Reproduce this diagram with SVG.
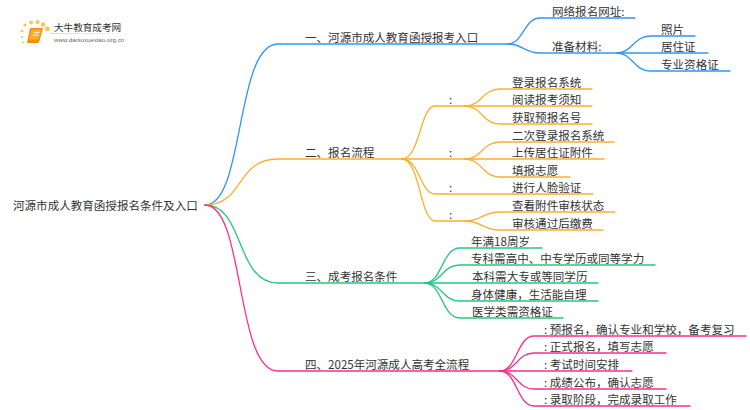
<svg xmlns="http://www.w3.org/2000/svg" width="750" height="410" viewBox="0 0 750 410">
<style>
text{font-family:"Noto Sans CJK SC","Noto Sans",sans-serif;font-size:11.55px;fill:#333}
.c{fill:none;stroke-width:1.3;stroke-linecap:round}
.b{stroke:#2e96fb}.o{stroke:#fbb02d}.g{stroke:#25c77f}.p{stroke:#fb2e8c}
.d{fill:#fcc44a}
</style>
<defs><linearGradient id="fade" x1="0" x2="1" y1="0" y2="0"><stop offset="0" stop-color="#ccc"/><stop offset="1" stop-color="#fff"/></linearGradient></defs>
<rect width="750" height="410" fill="#fff"/>
<g id="connectors">
<path class="c b" d="M205 205C245 205 235 44 278 44H508"/>
<path class="c b" d="M508 44C523 44 524 18 540 18H635"/>
<path class="c b" d="M508 44C523 44 524 53 540 53H617"/>
<path class="c b" d="M617 53C632 53 634 36 650 36H695"/>
<path class="c b" d="M617 53H708"/>
<path class="c b" d="M617 53C632 53 634 71 650 71H730"/>
<path class="c o" d="M205 205C245 205 235 159 278 159H402"/>
<path class="c o" d="M402 159C420 159 420 106 435 106H465"/>
<path class="c o" d="M402 159H465"/>
<path class="c o" d="M402 159C420 159 420 194 435 194H593"/>
<path class="c o" d="M402 159C420 159 420 221 435 221H465"/>
<path class="c o" d="M465 106C482 106 482 89 500 89H592"/>
<path class="c o" d="M465 106H592"/>
<path class="c o" d="M465 106C482 106 482 124 500 124H592"/>
<path class="c o" d="M465 159C482 159 482 142 500 142H614"/>
<path class="c o" d="M465 159H604"/>
<path class="c o" d="M465 159C482 159 482 177 500 177H570"/>
<path class="c o" d="M465 221C482 221 482 212 500 212H615"/>
<path class="c o" d="M465 221C482 221 482 230 500 230H603"/>
<path class="c g" d="M205 205C245 205 235 283 278 283H425"/>
<path class="c g" d="M425 283C442 283 442 248 460 248H542"/>
<path class="c g" d="M425 283C442 283 442 265 460 265H655"/>
<path class="c g" d="M425 283H598"/>
<path class="c g" d="M425 283C442 283 442 301 460 301H598"/>
<path class="c g" d="M425 283C442 283 442 318 460 318H563"/>
<path class="c p" d="M205 205C245 205 235 371 278 371H500"/>
<path class="c p" d="M500 371C517 371 517 336 534 336H746"/>
<path class="c p" d="M500 371C517 371 517 353 534 353H666"/>
<path class="c p" d="M500 371H632"/>
<path class="c p" d="M500 371C517 371 517 389 534 389H666"/>
<path class="c p" d="M500 371C517 371 517 406 534 406H690"/>
</g>
<g id="logo">
<circle class="d" cx="22" cy="31" r="1.3"/><circle class="d" cx="25" cy="25" r="1.6"/><circle class="d" cx="31" cy="22.5" r="2"/><circle class="d" cx="37.5" cy="22" r="2.1"/><circle class="d" cx="43" cy="24.5" r="2.2"/><circle class="d" cx="47.5" cy="29" r="2.4"/><circle class="d" cx="22" cy="37" r="1.1"/><circle class="d" cx="23" cy="42.5" r="1"/>
<path d="M30 28H43L39.500 41Q39 43 37 43H27Z" fill="#f28c12"/>
<path d="M31.500 29.500H41.500L38.500 39.500H29Z" fill="#fbae2c"/>
<path d="M34 32.500H39.500M33.300 35H38.500" stroke="#fff" stroke-width="0.8" fill="none"/>
<rect x="50" y="33" width="84" height="0.8" fill="url(#fade)"/>
<text x="54" y="31" style="font-size:9.6px">大牛教育成考网</text>
<text x="54" y="41.500" style="font-size:6.2px;font-family:'Liberation Sans',sans-serif;fill:#666">www.daniuxuexiao.org.cn</text>
</g>
<g id="root"><text x="13" y="209.800">河源市成人教育函授报名条件及入口</text></g>
<g id="n1"><text x="305" y="41.800">一、河源市成人教育函授报考入口</text></g>
<g id="n1-1"><text x="552" y="15.800">网络报名网址:</text></g>
<g id="n1-2"><text x="552" y="50.800">准备材料:</text></g>
<g id="n1-2-1"><text x="661" y="33.800">照片</text></g>
<g id="n1-2-2"><text x="661" y="50.800">居住证</text></g>
<g id="n1-2-3"><text x="661" y="68.800">专业资格证</text></g>
<g id="n2"><text x="305" y="156.800">二、报名流程</text></g>
<g id="n2-1"><text x="449" y="103.800">:</text></g>
<g id="n2-2"><text x="449" y="156.800">:</text></g>
<g id="n2-3"><text x="449" y="191.800">:</text></g>
<g id="n2-4"><text x="449" y="218.800">:</text></g>
<g id="l1"><text x="512" y="86.800">登录报名系统</text></g>
<g id="l2"><text x="512" y="103.800">阅读报考须知</text></g>
<g id="l3"><text x="512" y="121.800">获取预报名号</text></g>
<g id="l4"><text x="512" y="139.800">二次登录报名系统</text></g>
<g id="l5"><text x="512" y="156.800">上传居住证附件</text></g>
<g id="l6"><text x="512" y="174.800">填报志愿</text></g>
<g id="l7"><text x="512" y="191.800">进行人脸验证</text></g>
<g id="l8"><text x="512" y="209.800">查看附件审核状态</text></g>
<g id="l9"><text x="512" y="227.800">审核通过后缴费</text></g>
<g id="n3"><text x="305" y="280.800">三、成考报名条件</text></g>
<g id="c1"><text x="471" y="245.800">年满18周岁</text></g>
<g id="c2"><text x="471" y="262.800">专科需高中、中专学历或同等学力</text></g>
<g id="c3"><text x="472" y="280.800">本科需大专或等同学历</text></g>
<g id="c4"><text x="471" y="298.800">身体健康，生活能自理</text></g>
<g id="c5"><text x="472" y="315.800">医学类需资格证</text></g>
<g id="n4"><text x="305" y="368.800">四、2025年河源成人高考全流程</text></g>
<g id="f1"><text x="544" y="333.800">: 预报名，确认专业和学校，备考复习</text></g>
<g id="f2"><text x="544" y="350.800">: 正式报名，填写志愿</text></g>
<g id="f3"><text x="544" y="368.800">: 考试时间安排</text></g>
<g id="f4"><text x="544" y="386.800">: 成绩公布，确认志愿</text></g>
<g id="f5"><text x="544" y="403.800">: 录取阶段，完成录取工作</text></g>
</svg>
